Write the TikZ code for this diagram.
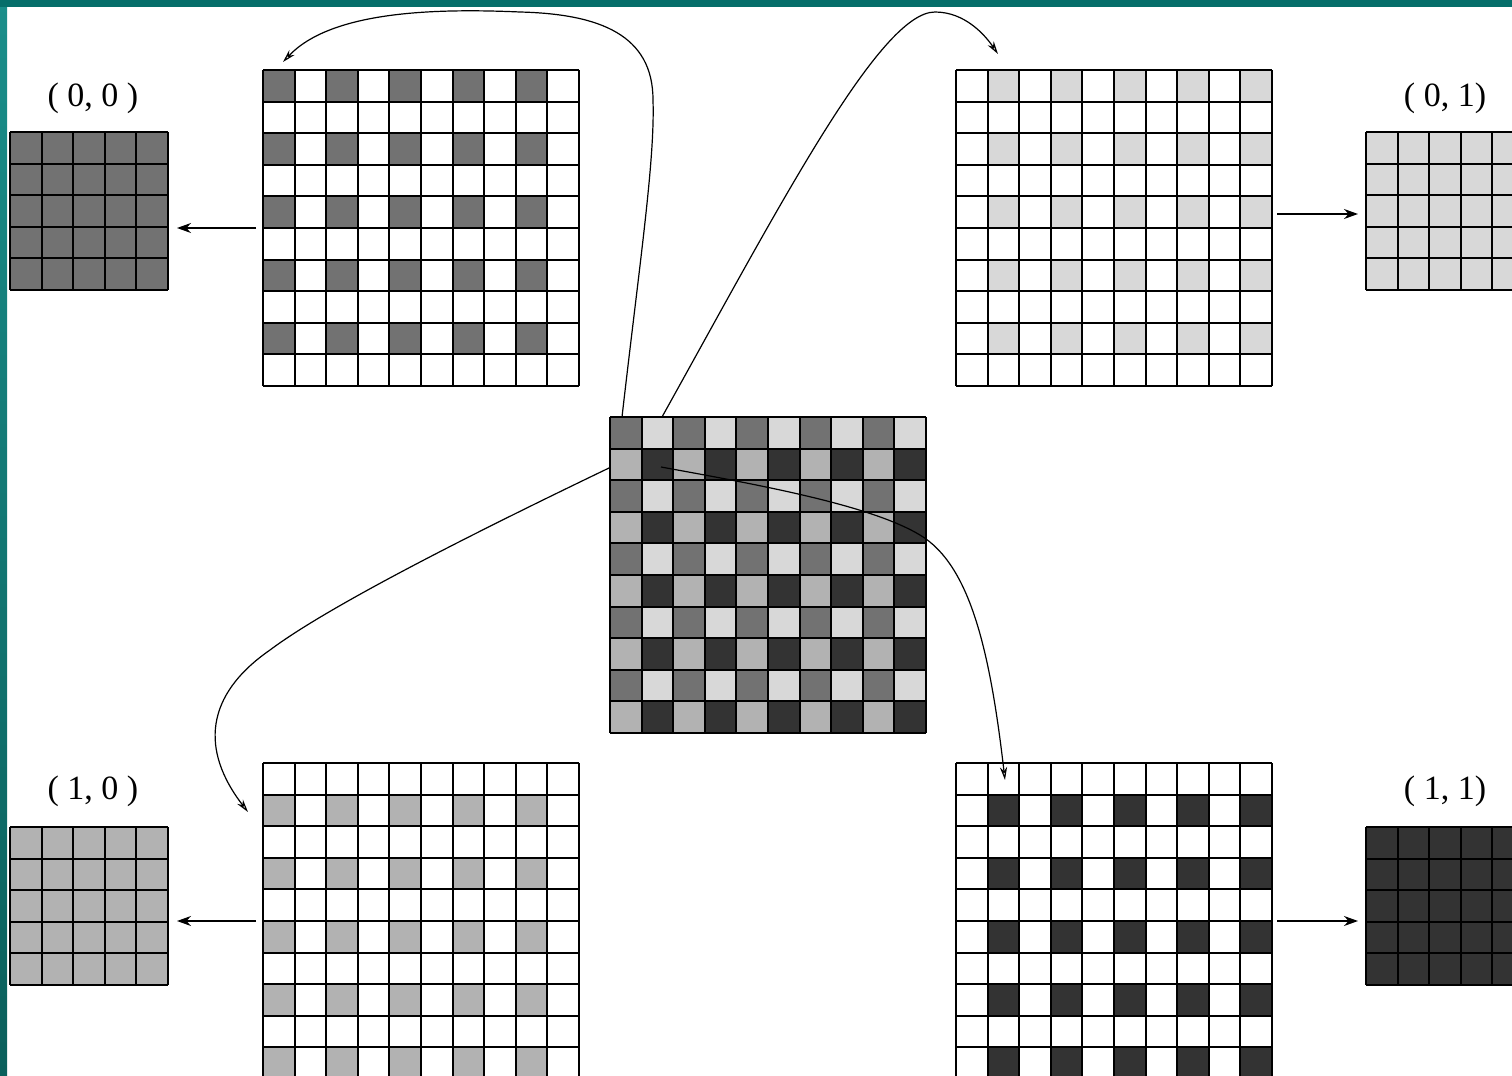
\documentclass[tikz,border=0pt]{standalone}
\usepackage{fontspec}
\setmainfont{Liberation Serif}
\usetikzlibrary{arrows.meta}

\definecolor{gA}{HTML}{727272}
\definecolor{gB}{HTML}{D8D8D8}
\definecolor{gC}{HTML}{B2B2B2}
\definecolor{gD}{HTML}{333333}
\definecolor{tealtop}{HTML}{056E6A}
\definecolor{tealLa}{HTML}{1A8E8A}
\definecolor{tealLb}{HTML}{0A5F5B}

\def\cs{15.8pt}
\tikzset{
  bigbox/.style={draw=none, inner sep=0pt, outer sep=0pt, minimum width=158pt, minimum height=158pt},
  smallbox/.style={draw=none, inner sep=0pt, outer sep=0pt, minimum width=79pt, minimum height=79pt},
  gridline/.style={line width=1pt, black},
  lbl/.style={inner sep=0pt, font=\fontsize{17}{20}\selectfont},
  harrow/.style={line width=0.7pt, -{Stealth[length=7pt,width=5pt]}},
  carrow/.style={line width=0.6pt, -{Stealth[open,length=6.5pt,width=3.6pt]}},
}

% #1 name, #2 n, #3 even-even, #4 even-odd, #5 odd-even, #6 odd-odd
\newcommand\pgridcells[6]{%
  \foreach \r in {1,...,#2}{%
    \foreach \c in {1,...,#2}{%
      \pgfmathtruncatemacro\rr{mod(\r-1,2)}%
      \pgfmathtruncatemacro\cc{mod(\c-1,2)}%
      \ifnum\rr=0 \ifnum\cc=0 \def\fc{#3}\else\def\fc{#4}\fi
      \else \ifnum\cc=0 \def\fc{#5}\else\def\fc{#6}\fi\fi
      \fill[\fc] ([xshift={(\c-1)*\cs}, yshift={-(\r-1)*\cs}]#1.north west) rectangle ++(\cs,-\cs);
    }%
  }%
  \foreach \i in {0,...,#2}{%
    \draw[gridline] ([xshift=\i*\cs]#1.north west) -- ([xshift=\i*\cs]#1.south west);
    \draw[gridline] ([yshift=-\i*\cs]#1.north west) -- ([yshift=-\i*\cs]#1.north east);
  }%
}

\begin{document}
\begin{tikzpicture}[x=0.5pt, y=-0.5pt]
\useasboundingbox (0,0) rectangle (1512,1076);
\clip (0,0) rectangle (1512,1076);
\fill[white] (0,0) rectangle (1512,1076);

% frame
\shade[top color=tealLa, bottom color=tealLb] (0,0) rectangle (7,1076);
\fill[tealtop] (0,0) rectangle (1512,7);

% grids
\node[bigbox] (TL) at (421,228) {};
\node[bigbox] (TR) at (1114,228) {};
\node[bigbox] (C)  at (768,575) {};
\node[bigbox] (BL) at (421,921) {};
\node[bigbox] (BR) at (1114,921) {};
\node[smallbox] (s00) at (89,211) {};
\node[smallbox] (s01) at (1445,211) {};
\node[smallbox] (s10) at (89,906) {};
\node[smallbox] (s11) at (1445,906) {};

\pgridcells{TL}{10}{gA}{white}{white}{white}
\pgridcells{TR}{10}{white}{gB}{white}{white}
\pgridcells{BL}{10}{white}{white}{gC}{white}
\pgridcells{BR}{10}{white}{white}{white}{gD}
\pgridcells{C}{10}{gA}{gB}{gC}{gD}
\pgridcells{s00}{5}{gA}{gA}{gA}{gA}
\pgridcells{s01}{5}{gB}{gB}{gB}{gB}
\pgridcells{s10}{5}{gC}{gC}{gC}{gC}
\pgridcells{s11}{5}{gD}{gD}{gD}{gD}

% labels
\node[lbl] (l00) at (93,98) {( 0, 0 )};
\node[lbl] (l01) at (1445,98) {( 0, 1)};
\node[lbl] (l10) at (93,791) {( 1, 0 )};
\node[lbl] (l11) at (1445,791) {( 1, 1)};

% horizontal arrows
\draw[harrow] ([xshift=-3.5pt]TL.west) -- ([xshift=4.5pt]TL.west -| s00.east);
\draw[harrow] ([shift={(5,3)}]s01.west -| TR.east) -- ([shift={(-8,3)}]s01.west);
\draw[harrow] ([xshift=-3.5pt]BL.west) -- ([xshift=4.5pt]BL.west -| s10.east);
\draw[harrow] ([xshift=2.5pt]BR.east) -- ([xshift=-4pt]BR.east -| s11.west);

% curved arrows
\draw[carrow] ([shift={(12,0)}]C.north west)
  .. controls (640,260) and (655,160) .. (653,100)
  .. controls (653,35) and (600,14) .. (520,12)
  .. controls (430,8) and (330,12) .. ([shift={(20,-8)}]TL.north west);
\draw[carrow] ([shift={(52,0)}]C.north west)
  .. controls (780,205) and (880,12) .. (935,12)
  .. controls (965,12) and (985,35) .. ([shift={(42,-16)}]TR.north west);
\draw[carrow] ([shift={(-1,51)}]C.north west)
  .. controls (480,530) and (330,605) .. (270,650)
  .. controls (205,695) and (200,750) .. ([shift={(-15,49)}]BL.north west);
\draw[carrow] ([shift={(51,50)}]C.north west)
  .. controls (760,485) and (870,505) .. (920,535)
  .. controls (970,565) and (990,650) .. ([shift={(49,17)}]BR.north west);
\end{tikzpicture}
\end{document}
